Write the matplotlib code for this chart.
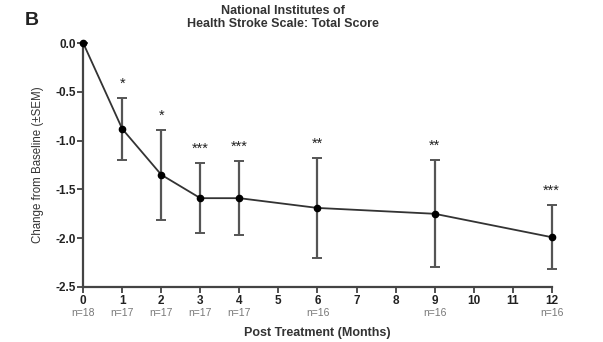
from matplotlib import pyplot as plt
import numpy as np

plt.rcParams['font.family'] = ['Liberation Sans', 'DejaVu Sans']

# data
months = [0, 1, 2, 3, 4, 6, 9, 12]
change = [0.0, -0.88, -1.35, -1.59, -1.59, -1.69, -1.75, -1.99]
sem = [0.0, 0.32, 0.46, 0.36, 0.38, 0.51, 0.55, 0.33]
stars = ['', '*', '*', '***', '***', '**', '**', '***']
n_labels = ['n=18', 'n=17', 'n=17', 'n=17', 'n=17', 'n=16', 'n=16', 'n=16']

fig = plt.figure(figsize=(6.03, 3.42), dpi=100)
ax = fig.add_axes([0.138, 0.161, 0.777, 0.713])

ax.errorbar(months, change, yerr=sem, color='#333333', ecolor='#555555',
            elinewidth=1.6, capsize=3.5, capthick=1.4, lw=1.3,
            marker='o', markersize=4.5, markerfacecolor='black',
            markeredgecolor='black', zorder=3, clip_on=False)

for m, c, s, st in zip(months, change, sem, stars):
    if st:
        ax.annotate(st, (m, c + s), xytext=(0, 5), textcoords='offset points',
                    ha='center', va='bottom', fontsize=10.5, color='#222222')

ax.set_xlim(0, 12)
ax.set_ylim(-2.5, 0)
ax.set_xticks(np.arange(0, 13))
ax.set_yticks([0.0, -0.5, -1.0, -1.5, -2.0, -2.5])
ax.set_yticklabels(['0.0', '-0.5', '-1.0', '-1.5', '-2.0', '-2.5'])
for lab in ax.get_xticklabels() + ax.get_yticklabels():
    lab.set_fontweight('bold')
    lab.set_fontsize(8.5)
ax.tick_params(direction='out', length=4, width=1.2, colors='#333333',
               labelcolor='#222222', pad=1.5)

for sp in ['top', 'right']:
    ax.spines[sp].set_visible(False)
for sp in ['left', 'bottom']:
    ax.spines[sp].set_linewidth(1.6)
    ax.spines[sp].set_color('#444444')

for m, nl in zip(months, n_labels):
    ax.annotate(nl, (m, 0), xycoords=('data', 'axes fraction'),
                xytext=(0, -19), textcoords='offset points',
                ha='center', va='center', fontsize=7.5, color='#777777')

ax.annotate('Post Treatment (Months)', (0.5, 0), xycoords='axes fraction',
            xytext=(0, -33), textcoords='offset points', ha='center',
            va='center', fontsize=9, fontweight='bold', color='#333333')
ax.set_ylabel('Change from Baseline (\u00b1SEM)', fontsize=8.3, color='#333333',
              labelpad=8)

fig.text(0.469, 0.985, 'National Institutes of\nHealth Stroke Scale: Total Score',
         ha='center', va='top', fontsize=9, fontweight='bold',
         color='#333333', linespacing=1.1)
fig.text(0.053, 0.94, 'B', ha='center', va='center', fontsize=14,
         fontweight='bold', color='#222222')

fig.savefig('out.png', dpi=100)
